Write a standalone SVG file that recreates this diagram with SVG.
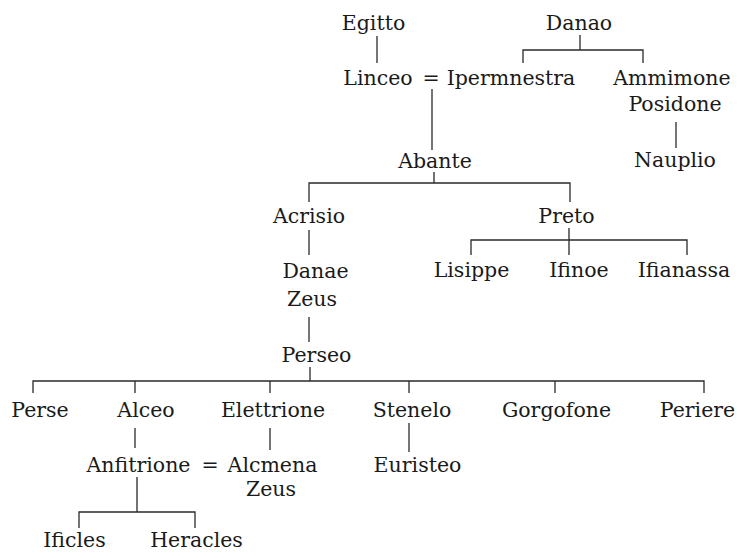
<svg xmlns="http://www.w3.org/2000/svg" width="739" height="558" viewBox="0 0 739 558">
<style>
text{font-family:"DejaVu Serif","Liberation Serif",serif;font-size:20.5px;fill:#1a1a1a;text-anchor:middle}
.c path{fill:none;stroke:#2a2a2a;stroke-width:1.3}
</style>
<rect width="739" height="558" fill="#fff"/>
<g class="c" id="connectors">
<path d="M377 36V63"/>
<path d="M580 35V50M523 63V50H643V63"/>
<path d="M432 89V150"/>
<path d="M676 122V148"/>
<path d="M434 172V183M309 202V183H570V202"/>
<path d="M309 230V255"/>
<path d="M569 228V255M471 255V240H687V255"/>
<path d="M309 317V342"/>
<path d="M310 367V381M33 393V381H704V393M135 381V393M270 381V393M409 381V393M555 381V393"/>
<path d="M135 428V448"/>
<path d="M270 428V450"/>
<path d="M409 423V452"/>
<path d="M137 477V512M79 528V512H195V528"/>
<text x="431" y="85">=</text>
<text x="210" y="472">=</text>
</g>
<g id="egitto"><text x="373.5" y="30">Egitto</text></g>
<g id="danao"><text x="579" y="30">Danao</text></g>
<g id="linceo"><text x="378" y="85">Linceo</text></g>
<g id="ipermnestra"><text x="511" y="85">Ipermnestra</text></g>
<g id="ammimone"><text x="672" y="85">Ammimone</text><text x="675" y="111">Posidone</text></g>
<g id="nauplio"><text x="675" y="167">Nauplio</text></g>
<g id="abante"><text x="435" y="168">Abante</text></g>
<g id="acrisio"><text x="309" y="223">Acrisio</text></g>
<g id="preto"><text x="566.5" y="223">Preto</text></g>
<g id="danae"><text x="315.5" y="278">Danae</text><text x="312" y="306">Zeus</text></g>
<g id="lisippe"><text x="471.5" y="277">Lisippe</text></g>
<g id="ifinoe"><text x="579" y="277">Ifinoe</text></g>
<g id="ifianassa"><text x="684" y="277">Ifianassa</text></g>
<g id="perseo"><text x="316.5" y="362">Perseo</text></g>
<g id="perse"><text x="40" y="417">Perse</text></g>
<g id="alceo"><text x="146" y="417">Alceo</text></g>
<g id="elettrione"><text x="273" y="417">Elettrione</text></g>
<g id="stenelo"><text x="412" y="417">Stenelo</text></g>
<g id="gorgofone"><text x="556.5" y="417">Gorgofone</text></g>
<g id="periere"><text x="697.5" y="417">Periere</text></g>
<g id="anfitrione"><text x="138.5" y="472">Anfitrione</text></g>
<g id="alcmena"><text x="272.5" y="472">Alcmena</text><text x="271" y="496">Zeus</text></g>
<g id="euristeo"><text x="417.5" y="472">Euristeo</text></g>
<g id="ificles"><text x="74.5" y="547">Ificles</text></g>
<g id="heracles"><text x="196.5" y="547">Heracles</text></g>
</svg>
